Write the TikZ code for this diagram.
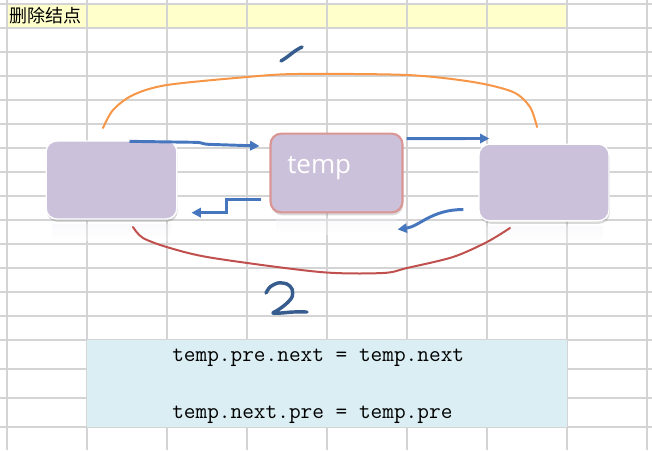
\documentclass[tikz,border=0pt]{standalone}
\usepackage{fontspec}
\newfontfamily\cjkfont{Noto Sans CJK SC}
\newfontfamily\labelfont{Open Sans}
\usepackage{tikz}
\usetikzlibrary{arrows.meta,shadows,calc}
\definecolor{gridgray}{RGB}{212,212,212}
\definecolor{titleyellow}{RGB}{255,255,204}
\definecolor{codeblue}{RGB}{218,238,243}
\definecolor{boxfill}{RGB}{204,193,218}
\definecolor{tempborder}{RGB}{217,150,148}
\definecolor{linkblue}{RGB}{70,118,190}
\definecolor{penorange}{RGB}{247,150,70}
\definecolor{penred}{RGB}{192,80,77}
\definecolor{pendark}{RGB}{55,92,142}
\tikzset{
  listbox/.style={rounded corners=8pt, fill=boxfill, draw=white, line width=1pt, inner sep=0pt,
    drop shadow={opacity=0.3,shadow xshift=0.6pt,shadow yshift=-2.2pt}},
  linkarrow/.style={draw=linkblue, line width=2.2pt, -{Triangle[length=7pt,width=7pt]}},
  pen/.style={line width=1.5pt, line cap=round, line join=round},
  reflect/.style={top color=boxfill!30, bottom color=white, opacity=0.35},
}

\begin{document}
\begin{tikzpicture}[x=0.75pt,y=-0.75pt]
            \useasboundingbox (0,0) rectangle (652,450);
            \fill[titleyellow] (7,4) rectangle (567,28);
            \foreach \x in {7,87,...,647} \draw[gridgray, line width=0.8pt] (\x,0) -- (\x,450);
            \foreach \y in {4,28,...,340} \draw[gridgray, line width=0.8pt] (0,\y) -- (652,\y);
            \foreach \y in {369,398,427} \draw[gridgray, line width=0.8pt] (0,\y) -- (652,\y);
            \fill[codeblue] (87,340) rectangle (567,427);
            \node[anchor=west, inner sep=0pt, font=\cjkfont\fontsize{13.5}{15}\selectfont] (title) at (9,16) {删除结点};
            \node[anchor=west, inner sep=0pt, font=\ttfamily\fontsize{17}{20}\selectfont] (code1) at (172,358) {temp.pre.next = temp.next};
            \node[anchor=west, inner sep=0pt, font=\ttfamily\fontsize{17}{20}\selectfont] (code2) at (172,415) {temp.next.pre = temp.pre};
            \shade[reflect] (52,224) rectangle (171,240);
            \shade[reflect] (276,218) rectangle (397,234);
            \shade[reflect] (485,226) rectangle (603,242);
            \node[listbox, minimum width=98pt, minimum height=58.5pt] (lnode) at (111.5,180) {};
            \node[listbox, draw=tempborder, line width=1.6pt, minimum width=99pt, minimum height=59pt] (tnode) at (336.5,173) {};
            \node[listbox, minimum width=97.5pt, minimum height=57.5pt] (rnode) at (544,182.5) {};
            \node[anchor=base west, inner sep=0pt, text=white, font=\labelfont\fontsize{19.5}{22}\selectfont] (tlabel) at (287,173) {temp};
            \draw[linkarrow] ($(lnode.north)+(18,1)$) -- ++(67,1) to[out=0,in=180] ++(12,2) -- ($(tnode.west)+(-10,-27)$);
            \draw[linkarrow] ($(tnode.north east)+(3,6)$) -- ($(rnode.north west)+(11,-5)$);
            \draw[linkarrow] ($(tnode.south west)+(-8,-14)$) -- ++(-35,0) |- ($(lnode.south east)+(14,-7)$);
            \draw[linkarrow] ($(rnode.south west)+(-15,-12)$) .. controls +(-32,0) and +(22,-3) .. ($(tnode.south east)+(-6,16)$);
            \draw[pen, penorange] plot[smooth] coordinates {(103,128) (113,110) (133,95) (167,85) (247,77) (297,74) (407,75) (473,82) (513,92) (530,107) (537,127)};
            \draw[pen, penred] plot[smooth] coordinates {(133,227) (143,238) (170,248) (213,258) (320,272) (383,273) (407,268) (453,257) (487,242) (510,228)};
            \draw[pen, pendark, line width=2.6pt] (281,61) to[out=30,in=205] (302,47);
            \draw[pen, pendark, line width=2.6pt] plot[smooth] coordinates {(266,293) (270,287) (278,283) (287,284) (292,289) (292,297) (286,304) (278,310) (273,313) (281,313) (293,312) (307,312)};
        \end{tikzpicture}
\end{document}
